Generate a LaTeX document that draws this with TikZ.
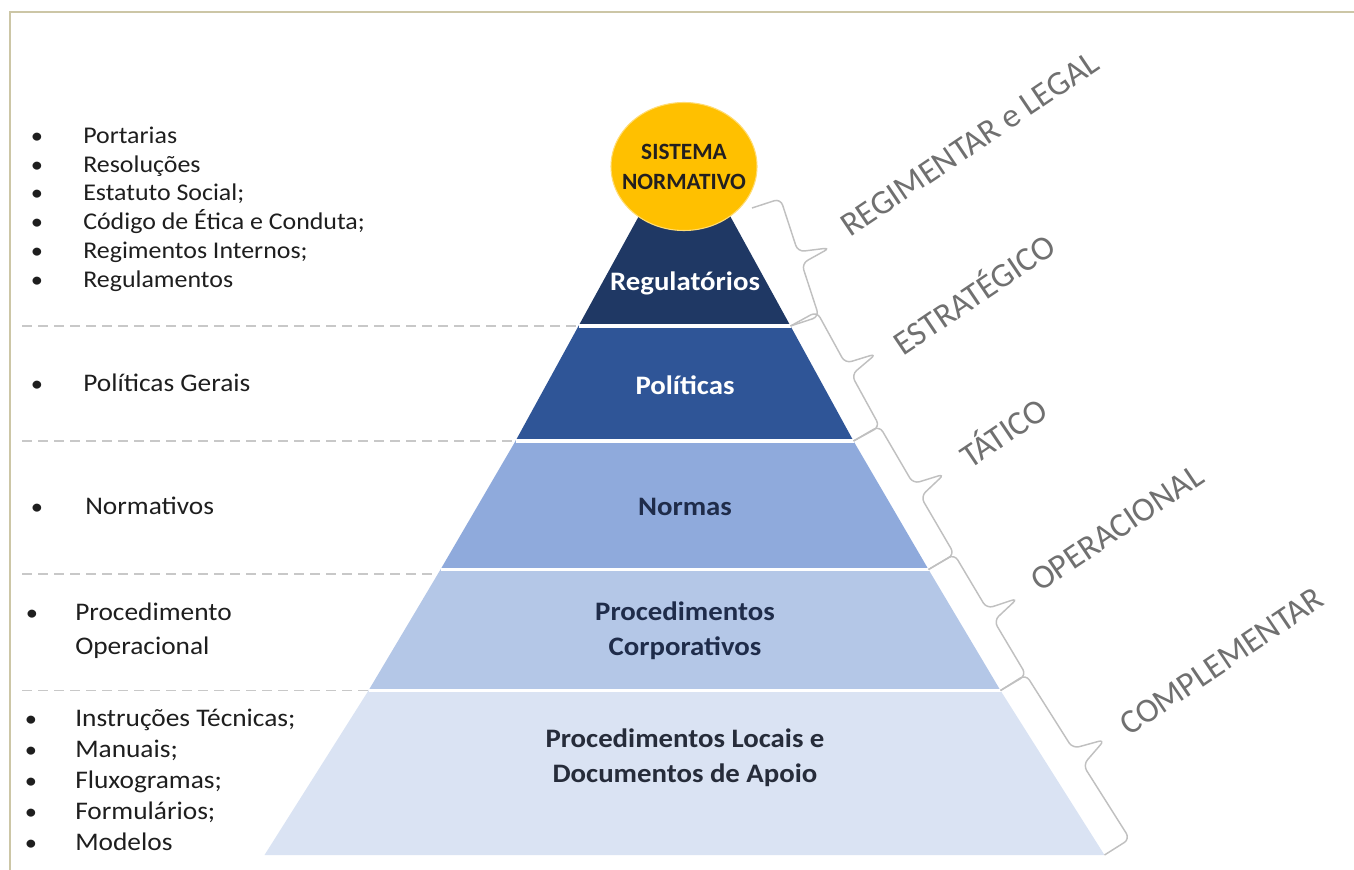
\documentclass[tikz,border=0pt]{standalone}
\usepackage{fontspec}
\setmainfont{Carlito}[FakeStretch=1.08]
\newfontfamily\lblfont{Carlito}
\usetikzlibrary{calc,shapes.geometric}
\definecolor{framec}{RGB}{204,198,166}
\definecolor{regc}{RGB}{31,56,100}
\definecolor{polc}{RGB}{47,85,151}
\definecolor{normc}{RGB}{143,170,220}
\definecolor{corpc}{RGB}{180,199,231}
\definecolor{locc}{RGB}{218,227,243}
\definecolor{goldc}{RGB}{255,192,0}
\definecolor{navyt}{RGB}{31,44,74}
\definecolor{loct}{RGB}{38,44,58}
\definecolor{darkt}{RGB}{30,30,30}
\definecolor{circt}{RGB}{35,31,32}
\definecolor{lblg}{RGB}{112,112,112}
\definecolor{bracec}{RGB}{192,192,192}
\definecolor{dashc}{RGB}{200,200,200}
\newcommand\mybrace[2]{%
  \draw[bracestyle] (#1) -- ($(#1)!22.5pt!90:(#2)$)
    -- ($(#1)!0.45!(#2)!22.5pt!90:(#2)$)
    -- ($(#1)!0.5!(#2)!46.5pt!90:(#2)$)
    -- ($(#1)!0.55!(#2)!22.5pt!90:(#2)$)
    -- ($(#2)!22.5pt!-90:(#1)$) -- (#2);}
\begin{document}
\begin{tikzpicture}[x=0.75pt,y=-0.75pt,
  lefttxt/.style={anchor=base west, inner sep=0, text=darkt, font=\fontsize{19}{22}\selectfont},
  bul/.style={anchor=base, inner sep=0, text=darkt, font=\fontsize{17}{22}\selectfont},
  toptxt/.style={lefttxt, font=\fontsize{18}{22}\selectfont},
  layertxt/.style={align=center, inner sep=0, font=\bfseries\fontsize{20}{26}\selectfont},
  lvl/.style={anchor=west, inner sep=0, rotate=34, text=lblg, font=\lblfont\fontsize{25.5}{30}\selectfont},
  bracestyle/.style={draw=bracec, line width=1.1pt, rounded corners=5pt},
  sep/.style={draw=white, line width=2.4pt},
  dsh/.style={draw=dashc, line width=1.1pt, dash pattern=on 7.5pt off 4.5pt}
]
\useasboundingbox (0,0) rectangle (1354,870);
% frame
\draw[framec, line width=1.5pt] (9.5,880) |- (1364,12);

% pyramid corners
\coordinate (ap) at (684.5,133);
\coordinate (l1) at (578.5,326);   \coordinate (r1) at (790.5,326);
\coordinate (l2) at (515.5,441);   \coordinate (r2) at (853.5,441);
\coordinate (l3) at (440.5,569.5); \coordinate (r3) at (928.5,569.5);
\coordinate (l4) at (368.5,690.5); \coordinate (r4) at (1000.5,690.5);
\coordinate (l5) at (264.5,855);   \coordinate (r5) at (1104.5,855);

% dashed guide lines
\coordinate (d1) at (22,326);   \coordinate (d2) at (22,441);
\coordinate (d3) at (22,574);   \coordinate (d3e) at (450,574);
\coordinate (d4) at (22,690.5);
\draw[dsh] (d1) -- (l1);
\draw[dsh] (d2) -- (l2);
\draw[dsh] (d3) -- (d3e);
\draw[dsh] (d4) -- (l4);

% layers
\fill[regc]  (ap) -- (r1) -- (l1) -- cycle;
\fill[polc]  (l1) -- (r1) -- (r2) -- (l2) -- cycle;
\fill[normc] (l2) -- (r2) -- (r3) -- (l3) -- cycle;
\fill[corpc] (l3) -- (r3) -- (r4) -- (l4) -- cycle;
\fill[locc]  (l4) -- (r4) -- (r5) -- (l5) -- cycle;
\draw[sep] (l1) -- (r1);
\draw[sep] (l2) -- (r2);
\draw[sep] (l3) -- (r3);
\draw[sep] (l4) -- (r4);

% top ellipse
\node[ellipse, fill=goldc, draw=goldc!55!white, line width=0.8pt,
      minimum width=109.5pt, minimum height=96pt, inner sep=0] (sn) at (684,166.5) {};
\node[align=center, inner sep=0, text=circt, font=\lblfont\bfseries\fontsize{17.5}{22.5}\selectfont] (snt) at (sn.center) {SISTEMA\\NORMATIVO};

% layer labels
\node[layertxt, text=white] (reg) at (685,283) {Regulatórios};
\node[layertxt, text=white] (pol) at (685,385) {Políticas};
\node[layertxt, text=navyt] (nor) at (685,507) {Normas};
\node[layertxt, text=navyt] (cor) at (685,631) {Procedimentos\\Corporativos};
\node[layertxt, text=loct] (loc) at (685,758) {Procedimentos Locais e\\Documentos de Apoio};

% braces
\coordinate (b1s) at (752,208);
\mybrace{b1s}{r1}
\mybrace{r1}{r2}
\mybrace{r2}{r3}
\mybrace{r3}{r4}
\mybrace{r4}{r5}

% level labels
\node[lvl] (v1) at (844,229) {REGIMENTAR e LEGAL};
\node[lvl] (v2) at (895,345) {ESTRATÉGICO};
\node[lvl] (v3) at (962,458) {TÁTICO};
\node[lvl] (v4) at (1034,584) {OPERACIONAL};
\node[lvl] (v5) at (1123,728) {COMPLEMENTAR};

% left lists
\node[bul] (a1b) at (37,144) {•};  \node[toptxt] (a1) at (83,144) {Portarias};
\node[bul] (a2b) at (37,173) {•};  \node[toptxt] (a2) at (83,173) {Resoluções};
\node[bul] (a3b) at (37,201) {•};  \node[toptxt] (a3) at (83,201) {Estatuto Social;};
\node[bul] (a4b) at (37,230) {•};  \node[toptxt] (a4) at (83,230) {Código de Ética e Conduta;};
\node[bul] (a5b) at (37,259) {•};  \node[toptxt] (a5) at (83,259) {Regimentos Internos;};
\node[bul] (a6b) at (37,287) {•};  \node[toptxt] (a6) at (83,287) {Regulamentos};

\node[bul] (p1b) at (37,391) {•}; \node[lefttxt] (p1) at (83,391) {Políticas Gerais};

\node[bul] (n1b) at (37,514) {•}; \node[lefttxt] (n1) at (85,514) {Normativos};

\node[bul] (c1b) at (32,620) {•}; \node[lefttxt] (c1) at (75,620) {Procedimento};
\node[lefttxt] (c2) at (75,654) {Operacional};

\node[bul] (e1b) at (31,726) {•}; \node[lefttxt] (e1) at (75,726) {Instruções Técnicas;};
\node[bul] (e2b) at (31,757) {•}; \node[lefttxt] (e2) at (75,757) {Manuais;};
\node[bul] (e3b) at (31,788) {•}; \node[lefttxt] (e3) at (75,788) {Fluxogramas;};
\node[bul] (e4b) at (31,819) {•}; \node[lefttxt] (e4) at (75,819) {Formulários;};
\node[bul] (e5b) at (31,850) {•}; \node[lefttxt] (e5) at (75,850) {Modelos};
\end{tikzpicture}
\end{document}
